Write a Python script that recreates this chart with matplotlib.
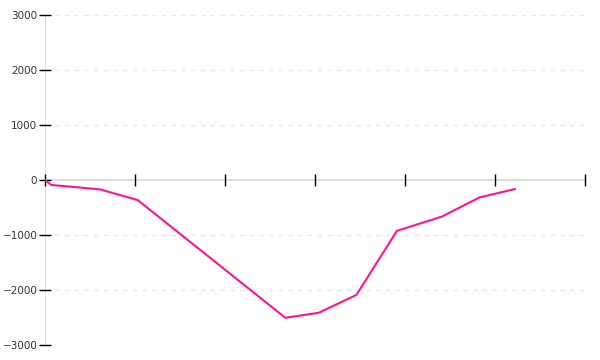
import matplotlib
matplotlib.use("Agg")
import matplotlib.pyplot as plt

# values
x_vals = [0, 0.07, 0.61, 1.03, 2.67, 3.04, 3.46, 3.91, 4.41, 4.83, 5.22]
y_vals = [0, -90, -170, -365, -2505, -2415, -2090, -925, -665, -315, -165]
y_ticks = [-3000, -2000, -1000, 0, 1000, 2000, 3000]
x_ticks = [0, 1, 2, 3, 4, 5, 6]

fig = plt.figure(figsize=(6, 3.6), dpi=100)
ax = fig.add_axes([0.075, 0.0417, 0.9, 0.9166])

ax.plot(x_vals, y_vals, color="#ff1493", lw=1.5, zorder=3)

ax.set_xlim(0, 6)
ax.set_ylim(-3000, 3000)
ax.set_xticks(x_ticks)
ax.set_xticklabels([])
ax.set_yticks(y_ticks)
ax.set_yticklabels([str(v).replace("-", "\u2212") for v in y_ticks])

# dashed grid, skipping the zero line (the x axis sits there)
for v in y_ticks:
    if v != 0:
        ax.axhline(v, color="#e8e8e8", lw=1, ls=(0, (3, 4)), zorder=1)

for s in ["top", "right"]:
    ax.spines[s].set_visible(False)
ax.spines["left"].set_color("#dddddd")
ax.spines["left"].set_zorder(1)
ax.spines["bottom"].set_position(("data", 0))
ax.spines["bottom"].set_color("#dddddd")
ax.spines["bottom"].set_linewidth(1.5)
ax.spines["bottom"].set_zorder(1)

ax.tick_params(axis="x", direction="inout", length=9, width=1, color="black")
ax.tick_params(axis="y", direction="inout", length=9, width=1, color="black",
               labelsize=7.5, labelcolor="#333333", pad=1)

fig.savefig("out.png", dpi=100)
